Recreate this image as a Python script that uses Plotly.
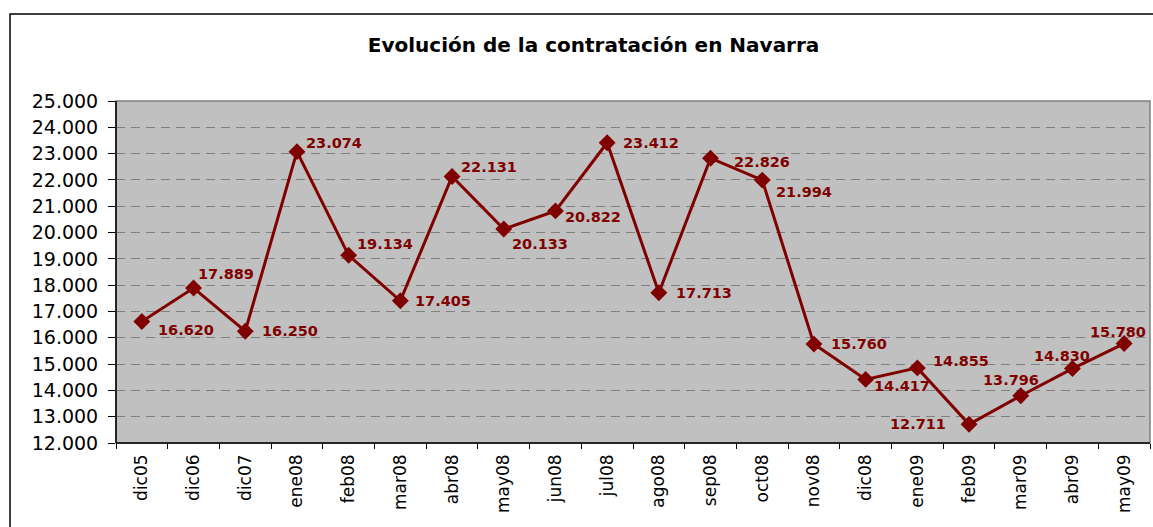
import plotly.graph_objects as go

# ---- data ----
categories = ["dic05", "dic06", "dic07", "ene08", "feb08", "mar08", "abr08", "may08",
              "jun08", "jul08", "ago08", "sep08", "oct08", "nov08", "dic08", "ene09",
              "feb09", "mar09", "abr09", "may09"]
contratos = [16620, 17889, 16250, 23074, 19134, 17405, 22131, 20133,
             20822, 23412, 17713, 22826, 21994, 15760, 14417, 14855,
             12711, 13796, 14830, 15780]
y_tick_values = list(range(12000, 25001, 1000))
title_text = "Evolución de la contratación en Navarra"

# ---- style: label offsets (pixels, dx right, dy down) ----
label_dx = [44, 32, 45, 37, 36, 43, 37, 36, 38, 44, 45, 51, 42, 45, 36, 44, -51, -10, -10, -6]
label_dy = [9, -14, 0, -9, -11, 0, -9, 15, 6, 0, 0, 4, 12, 0, 7, -7, 0, -16, -13, -12]

RED = "#800000"

def fmt(v):
    return f"{v:,}".replace(",", ".")

fig = go.Figure()
fig.add_trace(go.Scatter(
    x=categories, y=contratos, mode="lines+markers",
    line=dict(color=RED, width=3),
    marker=dict(symbol="diamond", size=13, color=RED),
    hoverinfo="skip", showlegend=False,
))

for c, v, dx, dy in zip(categories, contratos, label_dx, label_dy):
    fig.add_annotation(
        x=c, y=v, xref="x", yref="y", text=fmt(v), showarrow=False,
        xshift=dx, yshift=-dy, xanchor="center", yanchor="middle",
        font=dict(family="DejaVu Sans", size=14.5, color=RED, weight="bold"),
    )

# plot area border (gray)
fig.add_shape(type="rect", xref="paper", yref="paper", x0=0, y0=0, x1=1, y1=1,
              line=dict(color="#808080", width=1.5), layer="above")
# black axis lines on left and bottom
fig.add_shape(type="line", xref="paper", yref="paper", x0=0, y0=0, x1=0, y1=1,
              line=dict(color="black", width=1.5), layer="above")
fig.add_shape(type="line", xref="paper", yref="paper", x0=0, y0=0, x1=1, y1=0,
              line=dict(color="black", width=1.5), layer="above")
# outer chart border
fig.add_shape(type="rect", xref="paper", yref="paper", x0=-0.1025, y0=-0.3, x1=1.05, y1=1.2544,
              line=dict(color="black", width=1.5), layer="above")

fig.update_layout(
    width=1153, height=527,
    margin=dict(l=116, r=3, t=101, b=84),
    paper_bgcolor="white", plot_bgcolor="#C0C0C0",
    separators=",.",
    title=dict(text=title_text, x=0.5148, xref="container", xanchor="center",
               y=1 - 45 / 527, yref="container", yanchor="middle",
               font=dict(family="DejaVu Sans", size=20, color="black", weight="bold")),
    font=dict(family="DejaVu Sans", color="black"),
)
fig.update_xaxes(
    type="category", range=[-0.5, len(categories) - 0.5],
    tickangle=-90, tickson="boundaries",
    ticks="outside", ticklen=5, tickcolor="black", tickwidth=1,
    showgrid=False, showline=False, zeroline=False,
    tickfont=dict(family="DejaVu Sans", size=17, color="black"),
    ticklabelstandoff=7,
)
fig.update_yaxes(
    range=[12000, 25000], tickvals=y_tick_values, tickformat=",d",
    ticks="outside", ticklen=7, tickcolor="black", tickwidth=1,
    showgrid=True, gridcolor="#808080", gridwidth=1, griddash="9px,6px",
    showline=False, zeroline=False,
    tickfont=dict(family="DejaVu Sans", size=19, color="black"),
    ticklabelstandoff=6,
)

fig.write_html(
    "out.html",
    config={"displayModeBar": False},
    post_script="document.body.style.margin='0';document.body.style.overflow='hidden';",
)
